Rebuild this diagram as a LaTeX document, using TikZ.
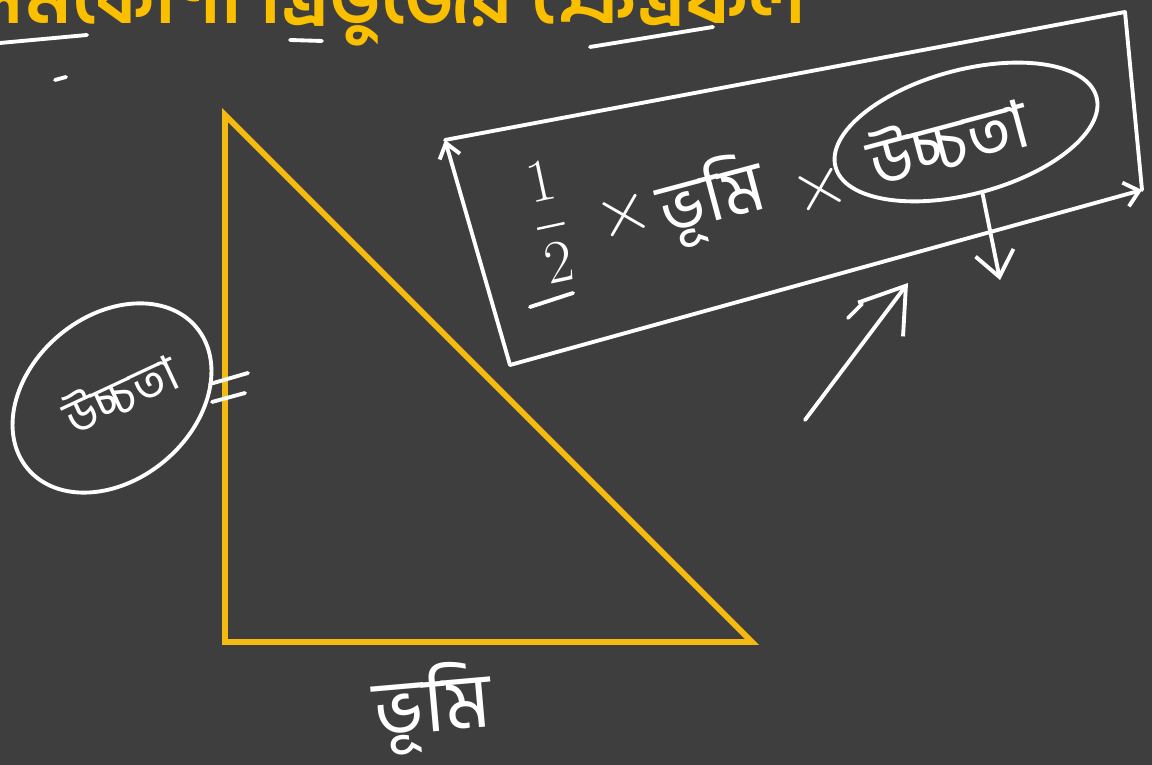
\documentclass[tikz,border=0pt]{standalone}
\usepackage{amsmath}
\usepackage{fontspec}
\newfontfamily\bnfont[Script=Bengali]{Hind Siliguri}
\usetikzlibrary{arrows.meta,positioning,shapes.geometric}

\definecolor{board}{RGB}{62,62,62}
\definecolor{triyellow}{RGB}{244,186,18}
\definecolor{titleyellow}{RGB}{250,192,0}

\tikzset{
  chalk/.style={white, line width=1.1pt, line cap=round, line join=round},
  triside/.style={triyellow, line width=1.7pt},
  hand/.style={white, inner sep=0pt, font=\bnfont\fontsize{#1}{#1}\selectfont},
  ringmark/.style={chalk, draw, ellipse, inner sep=0pt},
  barb/.style={-{Straight Barb[length=7pt,width=11pt]}},
}

\begin{document}
\begin{tikzpicture}[x=0.01cm,y=-0.01cm]
\fill[board] (0,0) rectangle (1152,765);
\useasboundingbox (0,0) rectangle (1152,765);

% Title, cut by the top edge
\node[titleyellow, inner sep=0pt, anchor=base east,
      font=\bnfont\bfseries\fontsize{22}{22}\selectfont] (title) at (807,24)
      {সমকোণী ত্রিভুজের ক্ষেত্রফল};
\draw[chalk] (0,43) -- (87,35);
\draw[chalk] (55,80) -- (66,77);
\draw[chalk] (290,40) -- (322,41);
\draw[chalk] (590,47) -- (713,27);

% Triangle
\coordinate (apex) at (225,115);
\coordinate (corner) at (225,642);
\coordinate (foot) at (752,642);
\draw[triside] (apex) -- (corner) -- (foot) -- cycle;

% Side labels
\node[hand=22, rotate=5] (base) at (433,708) {ভূমি};
\node[ringmark, minimum width=2.2cm, minimum height=1.64cm, rotate=40] (hring) at (112,398) {};
\node[hand=14, rotate=25] (height) at (120,393) {উচ্চতা};
\draw[chalk] (210,384) -- (248,373);
\draw[chalk] (212,402) -- (245,393);

% Formula box
\coordinate (tl) at (445,140);
\coordinate (tr) at (1125,12);
\coordinate (br) at (1142,190);
\coordinate (bl) at (510,365);
\draw[chalk, -{Straight Barb[length=4pt,width=6pt]}] (bl) -- (tl);
\draw[chalk] (tl) -- (tr) -- (br);
\draw[chalk, -{Straight Barb[length=4pt,width=7pt]}] (bl) -- (br);

% Formula
\node[white, inner sep=0pt, font=\fontsize{19}{19}\selectfont, rotate=12] (half) at (550,222) {$\dfrac{1}{2}$};
\draw[chalk] (530,307) -- (573,293);
\node[white, inner sep=0pt, font=\fontsize{22}{22}\selectfont, rotate=15] (times1) at (624,216) {$\times$};
\node[hand=20, rotate=15] (base2) at (712,200) {ভূমি};
\node[white, inner sep=0pt, font=\fontsize{20}{20}\selectfont, rotate=15] (times2) at (820,190) {$\times$};
\node[ringmark, minimum width=2.7cm, minimum height=1.24cm, rotate=15] (hring2) at (966,132) {};
\node[hand=19, rotate=15] (height2) at (948,140) {উচ্চতা};

% Arrows
\coordinate (down) at (1000,280);
\draw[chalk, barb] (hring2.south) -- (down);
\coordinate (tail) at (805,420);
\coordinate (tip) at (908,283);
\draw[chalk, -{Straight Barb[length=12pt,width=16pt]}] (tail) -- (tip);
\draw[chalk] (848,318) -- (862,304);
\end{tikzpicture}
\end{document}
